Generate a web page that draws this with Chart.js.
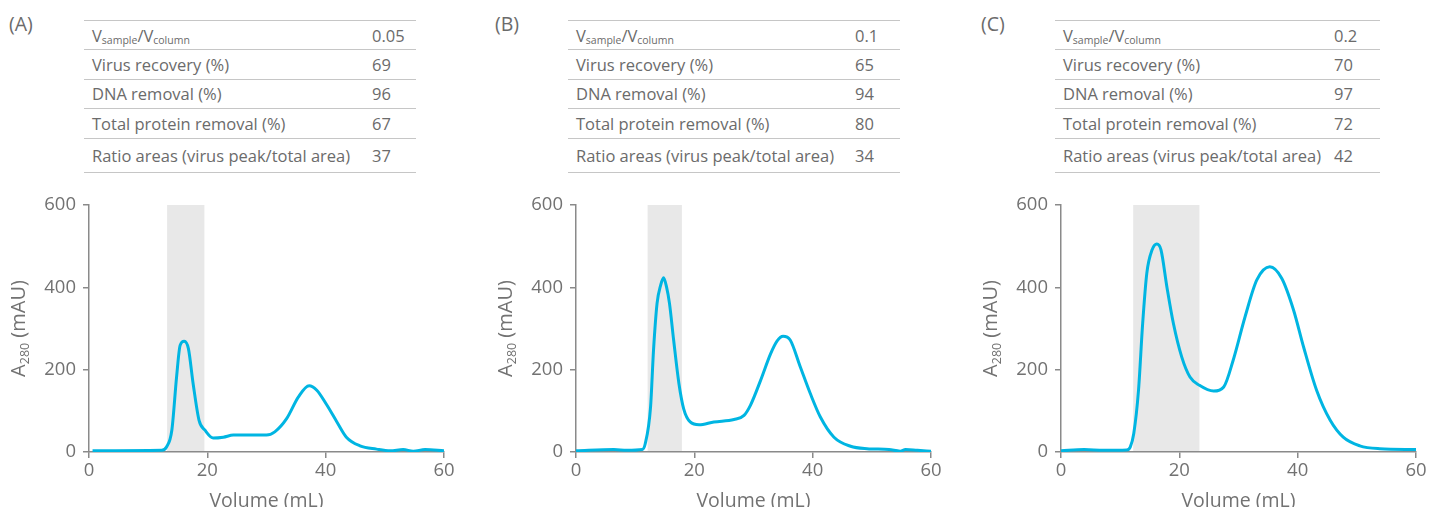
<!DOCTYPE html>
<html>
<head>
<meta charset="utf-8">
<script src="https://cdn.jsdelivr.net/npm/chart.js@4.4.1/dist/chart.umd.min.js"></script>
<style>
  html, body { margin: 0; padding: 0; background: #fff; }
  body { width: 1429px; height: 507px; position: relative; overflow: hidden;
         font-family: "Open Sans", sans-serif; color: #6b6b6b; }
  .tag { position: absolute; top: 10px; font-size: 19.5px; line-height: 27px; }
  table { position: absolute; top: 20px; border-collapse: collapse; font-size: 16.5px; }
  td { border-top: 1px solid #c6c6c6; border-bottom: 1px solid #c6c6c6; height: 29.4px;
       padding: 0 0 0 8px; white-space: nowrap; box-sizing: border-box; }
  td.v { padding-left: 0; }
  tr.last td { height: 34.4px; }
  sub { font-size: 10.5px; vertical-align: -2px; line-height: 0; }
  .box { position: absolute; top: 190px; height: 325px; width: 457px; }
</style>
</head>
<body>
<script>
/* ---------------- data ---------------- */
const panelTags = ["(A)", "(B)", "(C)"];
const rowLabels = [
  "V<sub>sample</sub>/V<sub>column</sub>",
  "Virus recovery (%)",
  "DNA removal (%)",
  "Total protein removal (%)",
  "Ratio areas (virus peak/total area)",
];
const volumeRatio = ["0.05", "0.1", "0.2"];
const virusRecovery = [69, 65, 70];
const dnaRemoval = [96, 94, 97];
const proteinRemoval = [67, 80, 72];
const areaRatio = [37, 34, 42];

const xTicks = [0, 20, 40, 60];
const yTicks = [0, 200, 400, 600];

// shaded virus-peak fraction (mL)
const shadeA = [13.2, 19.5];
const shadeB = [12.1, 17.9];
const shadeC = [12.2, 23.4];

// A280 traces: volume (mL) / absorbance (mAU)
const volA = [0.6, 12.3, 13.1, 14.0, 14.8, 15.4, 16.1, 16.8, 17.6, 18.6, 19.6, 21.0, 22.7, 24.4, 27.2, 30.0, 31.4, 33.4, 35.4, 37.2, 38.5, 40.2, 41.9, 43.5, 45.8, 48.6, 50.9, 53.1, 54.8, 56.8, 60];
const absA = [3, 4, 12, 53, 182, 259, 269, 251, 166, 77, 53, 34, 36, 41, 41, 41, 49, 81, 134, 161, 150, 114, 73, 36, 15, 7, 3, 6, 2, 6, 3];

const volB = [0, 6.4, 8.6, 11.2, 11.7, 12.6, 13.1, 13.7, 14.3, 14.8, 15.3, 15.8, 16.5, 17.4, 18.2, 19.3, 20.8, 23.3, 26.7, 28.4, 29.5, 31.2, 32.9, 34.0, 35.0, 36.2, 37.9, 39.6, 41.3, 43.6, 46.4, 49.2, 52.9, 54.8, 55.7, 57.7, 60];
const absB = [3, 6, 4, 6, 20, 109, 247, 361, 405, 423, 401, 361, 272, 166, 105, 73, 66, 73, 79, 89, 114, 174, 239, 270, 281, 272, 207, 142, 85, 36, 14, 8, 6, 2, 6, 4, 2];

const volC = [0, 3.9, 7.2, 11.1, 11.7, 12.3, 13.1, 13.8, 14.5, 15.4, 16.2, 16.9, 17.9, 19.0, 20.4, 21.8, 23.4, 25.8, 27.5, 29.1, 31.1, 33.1, 35.3, 37.3, 39.3, 41.0, 43.2, 45.5, 47.7, 50.5, 53.9, 60];
const absC = [3, 6, 4, 5, 12, 45, 150, 312, 434, 491, 505, 491, 401, 312, 231, 182, 162, 148, 158, 223, 328, 418, 450, 422, 345, 255, 150, 77, 36, 15, 8, 6];

/* ---------------- layout ---------------- */
const layout = [
  { tagX: 9,   tableX: 84,   labelW: 288, valueW: 44, boxX: 0 },
  { tagX: 495, tableX: 568,  labelW: 287, valueW: 45, boxX: 486.7 },
  { tagX: 981, tableX: 1055, labelW: 279, valueW: 46, boxX: 971.7 },
];
const traces = [
  { vol: volA, abs: absA, shade: shadeA },
  { vol: volB, abs: absB, shade: shadeB },
  { vol: volC, abs: absC, shade: shadeC },
];

const GRAY = "#727272";
const AXIS = "#8a8a8a";
const CYAN = "#00b5e2";
const FONT = "Open Sans";

const shadePlugin = {
  id: "shade",
  beforeDraw(chart, args, opts) {
    const { ctx, scales: { x, y } } = chart;
    const x0 = x.getPixelForValue(opts.range[0]);
    const x1 = x.getPixelForValue(opts.range[1]);
    const yTop = y.getPixelForValue(y.max);
    const yBot = y.getPixelForValue(y.min);
    ctx.save();
    ctx.fillStyle = "#e8e8e8";
    ctx.fillRect(x0, yTop, x1 - x0, yBot - yTop);
    ctx.restore();
  },
};

// y title with subscript: A280 (mAU)
const yTitlePlugin = {
  id: "yTitle",
  afterDraw(chart) {
    const { ctx, chartArea } = chart;
    const cx = chartArea.left - 71;
    const cy = (chartArea.top + chartArea.bottom) / 2;
    const big = `20px "${FONT}", sans-serif`;
    const small = `12.5px "${FONT}", sans-serif`;
    ctx.save();
    ctx.translate(cx, cy);
    ctx.rotate(-Math.PI / 2);
    ctx.fillStyle = GRAY;
    ctx.textBaseline = "alphabetic";
    ctx.font = big;
    const wA = ctx.measureText("A").width;
    const wR = ctx.measureText(" (mAU)").width;
    ctx.font = small;
    const wS = ctx.measureText("280").width;
    let px = -(wA + wS + wR) / 2;
    ctx.font = big;
    ctx.fillText("A", px, 7);
    px += wA;
    ctx.font = small;
    ctx.fillText("280", px, 10.5);
    px += wS;
    ctx.font = big;
    ctx.fillText(" (mAU)", px, 7);
    ctx.restore();
  },
};

/* ---------------- build ---------------- */
panelTags.forEach((tag, i) => {
  const L = layout[i];

  const t = document.createElement("div");
  t.className = "tag";
  t.style.left = L.tagX + "px";
  t.textContent = tag;
  document.body.appendChild(t);

  const values = [volumeRatio[i], virusRecovery[i], dnaRemoval[i], proteinRemoval[i], areaRatio[i]];
  const table = document.createElement("table");
  table.style.left = L.tableX + "px";
  rowLabels.forEach((lab, r) => {
    const tr = document.createElement("tr");
    if (r === rowLabels.length - 1) tr.className = "last";
    tr.innerHTML = `<td style="width:${L.labelW}px">${lab}</td><td class="v" style="width:${L.valueW}px">${values[r]}</td>`;
    table.appendChild(tr);
  });
  document.body.appendChild(table);

  const box = document.createElement("div");
  box.className = "box";
  box.style.left = L.boxX + "px";
  const cv = document.createElement("canvas");
  cv.width = 457;
  cv.height = 325;
  box.appendChild(cv);
  document.body.appendChild(box);

  const tr = traces[i];
  new Chart(cv, {
    type: "line",
    data: {
      datasets: [{
        data: tr.vol.map((v, k) => ({ x: v, y: tr.abs[k] })),
        borderColor: CYAN,
        borderWidth: 3,
        pointRadius: 0,
        cubicInterpolationMode: "monotone",
        fill: false,
      }],
    },
    options: {
      responsive: false,
      animation: false,
      layout: { padding: { left: 0, right: 13, top: 15, bottom: 0 } },
      plugins: {
        legend: { display: false },
        tooltip: { enabled: false },
        shade: { range: tr.shade },
      },
      scales: {
        x: {
          type: "linear", min: xTicks[0], max: xTicks[xTicks.length - 1],
          afterBuildTicks: (s) => { s.ticks = xTicks.map((v) => ({ value: v })); },
          afterFit: (s) => { s.height = 63; s.paddingLeft = 0; s.paddingRight = 0; },
          ticks: { color: GRAY, font: { family: FONT, size: 18.5 }, padding: 2, maxRotation: 0 },
          grid: { drawOnChartArea: false, drawTicks: true, tickLength: 6, color: AXIS, lineWidth: 1.5 },
          border: { display: true, color: AXIS, width: 1.5 },
          title: { display: true, text: "Volume (mL)", color: GRAY, font: { family: FONT, size: 19.5 }, padding: { top: 0, bottom: 1.5 } },
        },
        y: {
          min: yTicks[0], max: yTicks[yTicks.length - 1],
          afterBuildTicks: (s) => { s.ticks = yTicks.map((v) => ({ value: v })); },
          afterFit: (s) => { s.width = 89; s.paddingTop = 0; s.paddingBottom = 0; },
          ticks: { color: GRAY, font: { family: FONT, size: 18.5 }, padding: 7 },
          grid: { drawOnChartArea: false, drawTicks: true, tickLength: 6, color: AXIS, lineWidth: 1.5 },
          border: { display: true, color: AXIS, width: 1.5 },
        },
      },
    },
    plugins: [shadePlugin, yTitlePlugin],
  });
});
</script>
</body>
</html>
